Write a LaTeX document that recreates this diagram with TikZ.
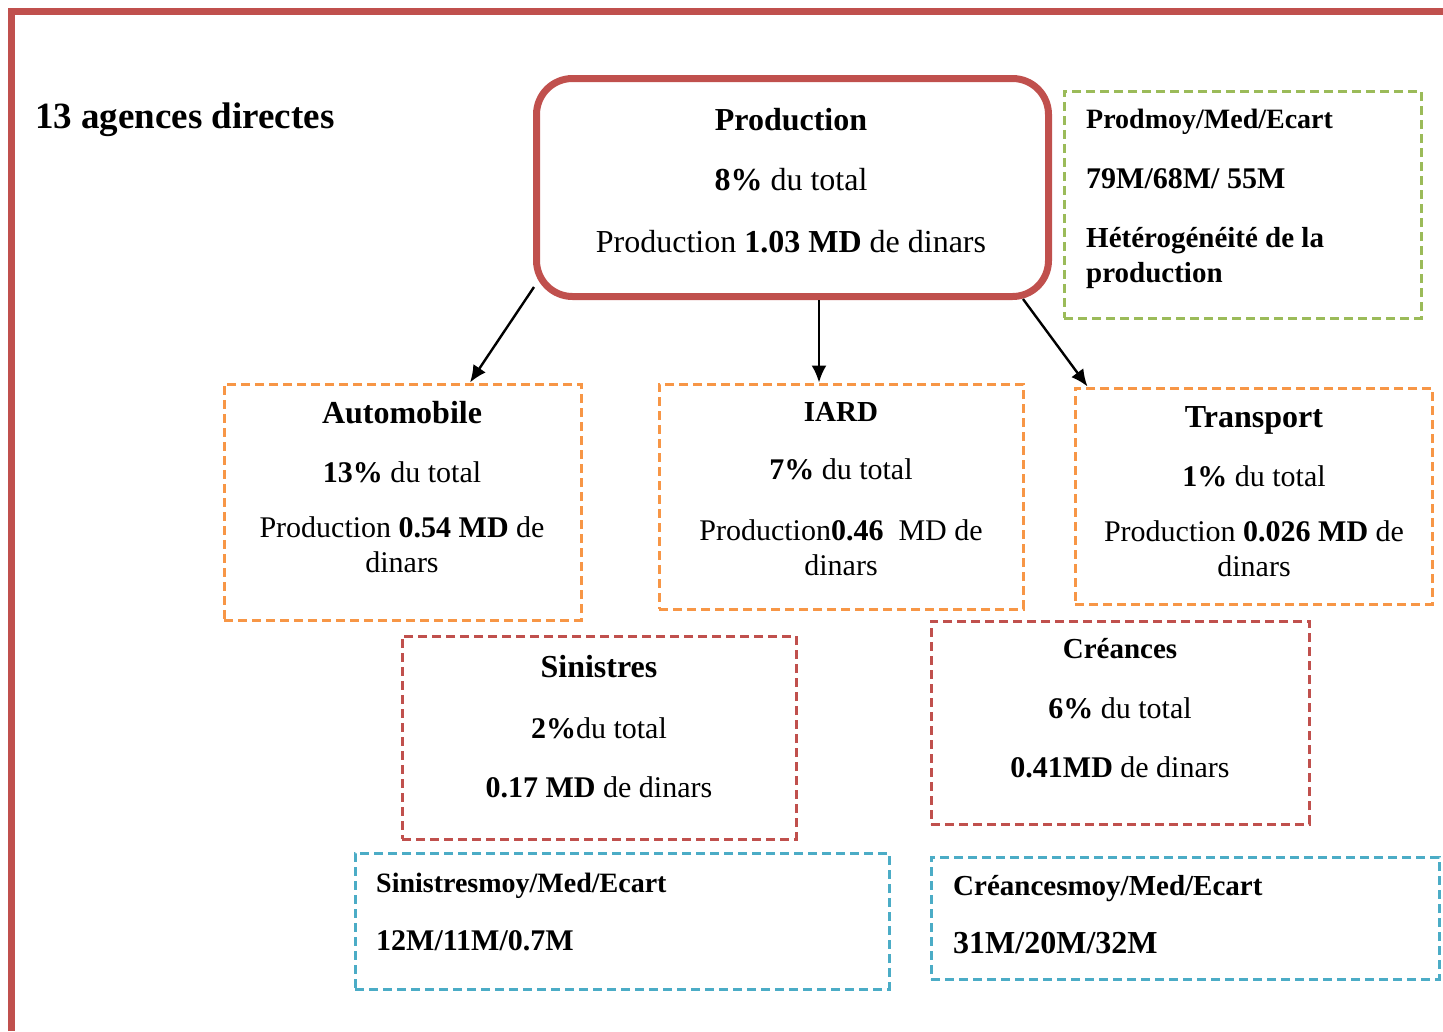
\documentclass[tikz,border=0pt]{standalone}
\usepackage{fontspec}
\setmainfont{Liberation Serif}
\usepackage{xcolor}
\usetikzlibrary{arrows.meta, calc}

\definecolor{rouge}{HTML}{C0504D}
\definecolor{orange}{HTML}{F79646}
\definecolor{vert}{HTML}{9BBB59}
\definecolor{bleu}{HTML}{4BACC6}
\newcommand{\titre}[2][32]{{\fontsize{#1}{35}\selectfont\bfseries #2}}

\begin{document}
\begin{tikzpicture}[
    x=1pt, y=-1pt,
    cadre/.style={draw=rouge, line width=7pt},
    boite/.style={draw, line width=3pt, dash pattern=on 9pt off 5pt, inner sep=0pt},
    texte/.style={font=\fontsize{30}{35}\selectfont, align=center, inner sep=0pt, anchor=base},
    gauche/.style={texte, align=left, anchor=base west},
    fleche/.style={-{Latex[length=17pt, width=15pt]}, line width=2.4pt}
  ]
    \useasboundingbox (0,0) rectangle (1443,1031);
    \draw[cadre] (11.5,1031) -- (11.5,11) -- (1443,11);

    % titre et boite principale (les textes sont places par leur derniere ligne)
    \node[gauche] (agences) at (35,128) {\titre[37]{13 agences directes}};
    \node[cadre, rounded corners=36pt, minimum width=512pt, minimum height=218pt,
          inner sep=0pt] (prod) at (792.5,187.5) {};
    \node[texte, font=\fontsize{32}{35}\selectfont] (prod-t) at (791,252)
      {\textbf{Production}\\[25pt] \textbf{8\%} du total\\[27pt]
       Production \textbf{1.03 MD} de dinars};
    \node[boite, draw=vert, minimum width=357pt, minimum height=227pt]
      (stat) at (1242.5,204.5) {};
    \node[gauche] (stat-t) at (1086,282)
      {\titre[28]{Prodmoy/Med/Ecart}\\[25pt] \textbf{79M/68M/ 55M}\\[24pt]
       \titre[29]{Hétérogénéité de la}\\ \titre[29]{production}};

    % branches
    \node[boite, draw=orange, minimum width=357pt, minimum height=236pt]
      (auto) at (402.5,502) {};
    \node[texte] (auto-t) at (402,572)
      {\titre{Automobile}\\[24pt] \textbf{13\%} du total\\[20pt]
       Production \textbf{0.54 MD} de\\ dinars};
    \node[boite, draw=orange, minimum width=364pt, minimum height=225pt]
      (iard) at (841,496.5) {};
    \node[texte] (iard-t) at (841,575)
      {\titre[29]{IARD}\\[23pt] \textbf{7\%} du total\\[26pt]
       Production\textbf{0.46}\ \ MD de\\ dinars};
    \node[boite, draw=orange, minimum width=357pt, minimum height=216pt]
      (transp) at (1253.5,496) {};
    \node[texte] (transp-t) at (1254,576)
      {\titre{Transport}\\[24pt] \textbf{1\%} du total\\[20pt]
       Production \textbf{0.026 MD} de\\ dinars};

    % sinistres et creances
    \node[boite, draw=rouge, minimum width=394pt, minimum height=203pt]
      (sin) at (599,737.5) {};
    \node[texte] (sin-t) at (599,797)
      {\titre{Sinistres}\\[26pt] \textbf{2\%}du total\\[24pt]
       \textbf{0.17 MD} de dinars};
    \node[boite, draw=rouge, minimum width=378pt, minimum height=203pt]
      (cre) at (1120,722.5) {};
    \node[texte] (cre-t) at (1120,777)
      {\titre[29]{Créances}\\[25pt] \textbf{6\%} du total\\[24pt]
       \textbf{0.41MD} de dinars};
    \node[boite, draw=bleu, minimum width=534pt, minimum height=136pt]
      (sinstat) at (622,921) {};
    \node[gauche] (sinstat-t) at (376,950)
      {\titre[28]{Sinistresmoy/Med/Ecart}\\[23pt] \textbf{12M/11M/0.7M}};
    \node[boite, draw=bleu, minimum width=508pt, minimum height=122pt]
      (crestat) at (1185,918) {};
    \node[gauche] (crestat-t) at (953,953)
      {\titre[29]{Créancesmoy/Med/Ecart}\\[23pt] \titre{31M/20M/32M}};

    \draw[fleche] ($(prod.south west)+(1,-13)$) -- ($(auto.north)+(67.5,0)$);
    \draw[fleche] ($(prod.south)+(26.5,0)$) coordinate (milieu)
      -- (milieu |- iard.north);
    \draw[fleche] ($(prod.south east)+(-29,-1)$) -- ($(transp.north west)+(14,0)$);
  \end{tikzpicture}
\end{document}
